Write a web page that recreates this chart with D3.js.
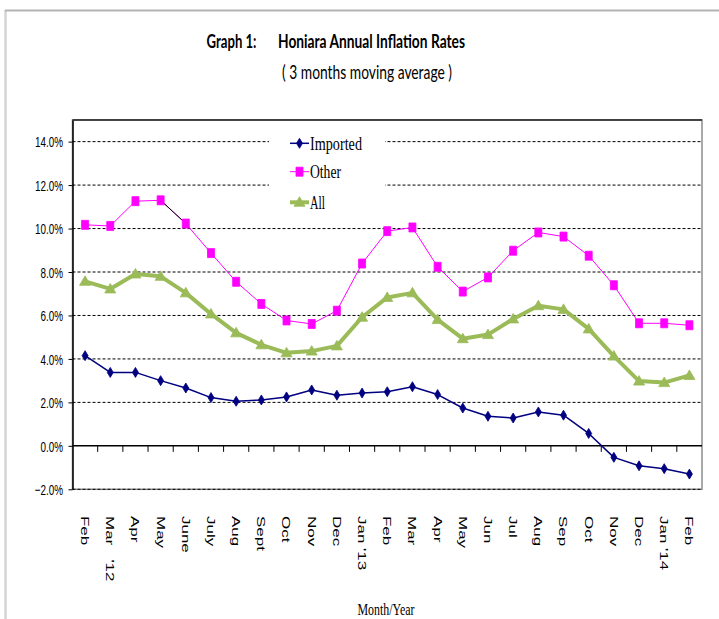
<!DOCTYPE html>
<html>
<head>
<meta charset="utf-8">
<script src="https://cdn.jsdelivr.net/npm/d3@7"></script>
<style>
  body { margin: 0; background: #fff; }
  svg { display: block; }
</style>
</head>
<body>
<div id="vis-container"></div>
<script>
// ------------------------------ DATA ------------------------------ //
const monthLabels = ["Feb", "Mar   '12", "Apr", "May", "June", "July", "Aug", "Sept", "Oct", "Nov", "Dec", "Jan '13",
  "Feb", "Mar", "Apr", "May", "Jun", "Jul", "Aug", "Sep", "Oct", "Nov", "Dec", "Jan '14", "Feb"];
const importedRates = [4.15, 3.38, 3.38, 3.00, 2.66, 2.22, 2.05, 2.11, 2.25, 2.57, 2.33, 2.43,
  2.49, 2.72, 2.36, 1.74, 1.36, 1.28, 1.56, 1.41, 0.57, -0.53, -0.92, -1.05, -1.30];
const otherRates = [10.17, 10.12, 11.26, 11.30, 10.23, 8.87, 7.55, 6.53, 5.77, 5.61, 6.22, 8.39,
  9.88, 10.05, 8.24, 7.10, 7.75, 8.98, 9.82, 9.63, 8.75, 7.39, 5.64, 5.64, 5.55];
const allRates = [7.57, 7.22, 7.91, 7.80, 7.04, 6.07, 5.20, 4.65, 4.28, 4.36, 4.60, 5.92,
  6.83, 7.04, 5.81, 4.93, 5.12, 5.84, 6.45, 6.28, 5.38, 4.13, 2.98, 2.91, 3.24];
const yTicks = [-2, 0, 2, 4, 6, 8, 10, 12, 14];
const seriesNames = ["Imported", "Other", "All"];

// ------------------------------ SET UP ------------------------------ //
const width = 719;
const height = 619;
const plot = { left: 72.5, right: 702, top: 119.9, bottom: 489.3 };
const squeeze = 0.66; // the original chart was squashed sideways

const svg = d3.select("#vis-container")
  .append("svg")
  .attr("width", width)
  .attr("height", height);

const x = d3.scaleBand()
  .domain(d3.range(monthLabels.length))
  .range([plot.left, plot.right]);

const y = d3.scaleLinear()
  .domain([-2, 15])
  .range([plot.bottom, plot.top]);

const cx = (i) => x(i) + x.bandwidth() / 2;

// Outer frame
svg.append("line").attr("x1", 5.5).attr("x2", 5.5).attr("y1", 10).attr("y2", height)
  .attr("stroke", "#d4d4d4").attr("stroke-width", 2.5);
svg.append("line").attr("x1", 5).attr("x2", width).attr("y1", 10.5).attr("y2", 10.5)
  .attr("stroke", "#b4b4b4").attr("stroke-width", 2);

// Titles
svg.append("text")
  .attr("x", 206.5).attr("y", 48)
  .attr("font-family", "Lato, 'Open Sans', sans-serif")
  .attr("font-weight", "bold").attr("font-size", 19)
  .attr("textLength", 50).attr("lengthAdjust", "spacingAndGlyphs")
  .text("Graph 1:");

svg.append("text")
  .attr("x", 278).attr("y", 48)
  .attr("font-family", "Lato, 'Open Sans', sans-serif")
  .attr("font-weight", "bold").attr("font-size", 19)
  .attr("textLength", 187).attr("lengthAdjust", "spacingAndGlyphs")
  .text("Honiara Annual Inflation Rates");

svg.append("text")
  .attr("x", 282).attr("y", 79)
  .attr("font-family", "Lato, 'Open Sans', sans-serif")
  .attr("font-size", 19)
  .attr("textLength", 170).attr("lengthAdjust", "spacingAndGlyphs")
  .text("( 3 months moving average )");

// Plot area border
svg.append("rect")
  .attr("x", plot.left).attr("y", plot.top)
  .attr("width", plot.right - plot.left).attr("height", plot.bottom - plot.top)
  .attr("fill", "none").attr("stroke", "#8c8c8c").attr("stroke-width", 1.5);
svg.append("line")
  .attr("x1", plot.left).attr("x2", plot.right).attr("y1", plot.top).attr("y2", plot.top)
  .attr("stroke", "#222").attr("stroke-width", 1.5);

// Dashed gridlines
svg.append("g")
  .selectAll("line")
  .data(yTicks.filter(d => d !== 0))
  .join("line")
  .attr("x1", plot.left).attr("x2", plot.right)
  .attr("y1", d => y(d)).attr("y2", d => y(d))
  .attr("stroke", "#000").attr("stroke-width", 1)
  .attr("stroke-dasharray", "3,2");

// Y axis
const yAxis = svg.append("g")
  .attr("transform", `translate(${plot.left},0)`)
  .call(d3.axisLeft(y).tickValues(yTicks).tickSize(4).tickSizeOuter(0)
    .tickFormat(d => d3.format(".1f")(d) + "%"));
yAxis.select(".domain").attr("stroke", "#000").attr("stroke-width", 1.5);
yAxis.selectAll(".tick line").attr("stroke", "#000");
yAxis.selectAll(".tick text")
  .attr("x", 0)
  .attr("dy", "0.35em")
  .attr("transform", `translate(-9.5,0) scale(${squeeze},1)`)
  .attr("font-family", "'Liberation Sans', Arial, sans-serif")
  .attr("font-size", 15)
  .attr("fill", "#000");

// Zero line with category ticks
svg.append("line")
  .attr("x1", plot.left).attr("x2", plot.right)
  .attr("y1", y(0)).attr("y2", y(0))
  .attr("stroke", "#000").attr("stroke-width", 1.5);
svg.append("g")
  .selectAll("line")
  .data(d3.range(1, monthLabels.length))
  .join("line")
  .attr("x1", d => x(d)).attr("x2", d => x(d))
  .attr("y1", y(0)).attr("y2", y(0) + 6)
  .attr("stroke", "#000").attr("stroke-width", 1);

// Month labels (rotated)
svg.append("g")
  .selectAll("text")
  .data(monthLabels)
  .join("text")
  .attr("transform", (d, i) => `translate(${cx(i)},516) rotate(90) scale(1,0.68)`)
  .attr("dy", "0.35em")
  .attr("font-family", "'Liberation Sans', Arial, sans-serif")
  .attr("font-size", 17)
  .style("white-space", "pre")
  .text(d => d);

// Axis title
svg.append("text")
  .attr("x", 386).attr("y", 615)
  .attr("text-anchor", "middle")
  .attr("font-family", "'Liberation Serif', 'Times New Roman', serif")
  .attr("font-size", 16)
  .attr("textLength", 57).attr("lengthAdjust", "spacingAndGlyphs")
  .text("Month/Year");

// ------------------------------ SERIES ------------------------------ //
const line = d3.line().x((d, i) => cx(i)).y(d => y(d));

const diamond = "M0,-5L3,0L0,5L-3,0Z";
const square = "M-3.5,-4.5H3.5V4.5H-3.5Z";
const triangle = "M0,-5.5L5.5,4L-5.5,4Z";

const series = [
  { name: "Imported", values: importedRates, color: "#000080", width: 1.5, marker: diamond },
  { name: "Other", values: otherRates, color: "#ff00ff", width: 1, marker: square },
  { name: "All", values: allRates, color: "#9bbb59", width: 4, marker: triangle }
];

series.forEach(s => {
  svg.append("path")
    .datum(s.values)
    .attr("d", line)
    .attr("fill", "none")
    .attr("stroke", s.color)
    .attr("stroke-width", s.width)
    .attr("stroke-linejoin", "round");

  if (s.name === "Other") {
    // the May-June segment is drawn in black in the original
    svg.append("path")
      .datum(s.values.slice(3, 5))
      .attr("d", d3.line().x((d, i) => cx(i + 3)).y(d => y(d)))
      .attr("fill", "none")
      .attr("stroke", "#000")
      .attr("stroke-width", 1);
  }

  svg.append("g")
    .selectAll("path")
    .data(s.values)
    .join("path")
    .attr("transform", (d, i) => `translate(${cx(i)},${y(d)})`)
    .attr("d", s.marker)
    .attr("fill", s.color)
    .attr("stroke", s.color)
    .attr("stroke-width", 0.8);
});

// ------------------------------ LEGEND ------------------------------ //
const legend = svg.append("g");
legend.append("rect")
  .attr("x", 269).attr("y", 130).attr("width", 116).attr("height", 84)
  .attr("fill", "#fff");

const legendRows = [143.3, 171.7, 202.3];
const legendWidths = [52, 31, 15];
series.forEach((s, i) => {
  const row = legend.append("g").attr("transform", `translate(0,${legendRows[i]})`);
  row.append("line")
    .attr("x1", 290).attr("x2", 309)
    .attr("stroke", s.color).attr("stroke-width", s.width);
  row.append("path")
    .attr("transform", "translate(299.5,0)")
    .attr("d", s.marker)
    .attr("fill", s.color).attr("stroke", s.color).attr("stroke-width", 0.8);
  row.append("text")
    .attr("x", 310).attr("y", 6.5)
    .attr("font-family", "'Liberation Serif', 'Times New Roman', serif")
    .attr("font-size", 19)
    .attr("textLength", legendWidths[i]).attr("lengthAdjust", "spacingAndGlyphs")
    .text(seriesNames[i]);
});
</script>
</body>
</html>
